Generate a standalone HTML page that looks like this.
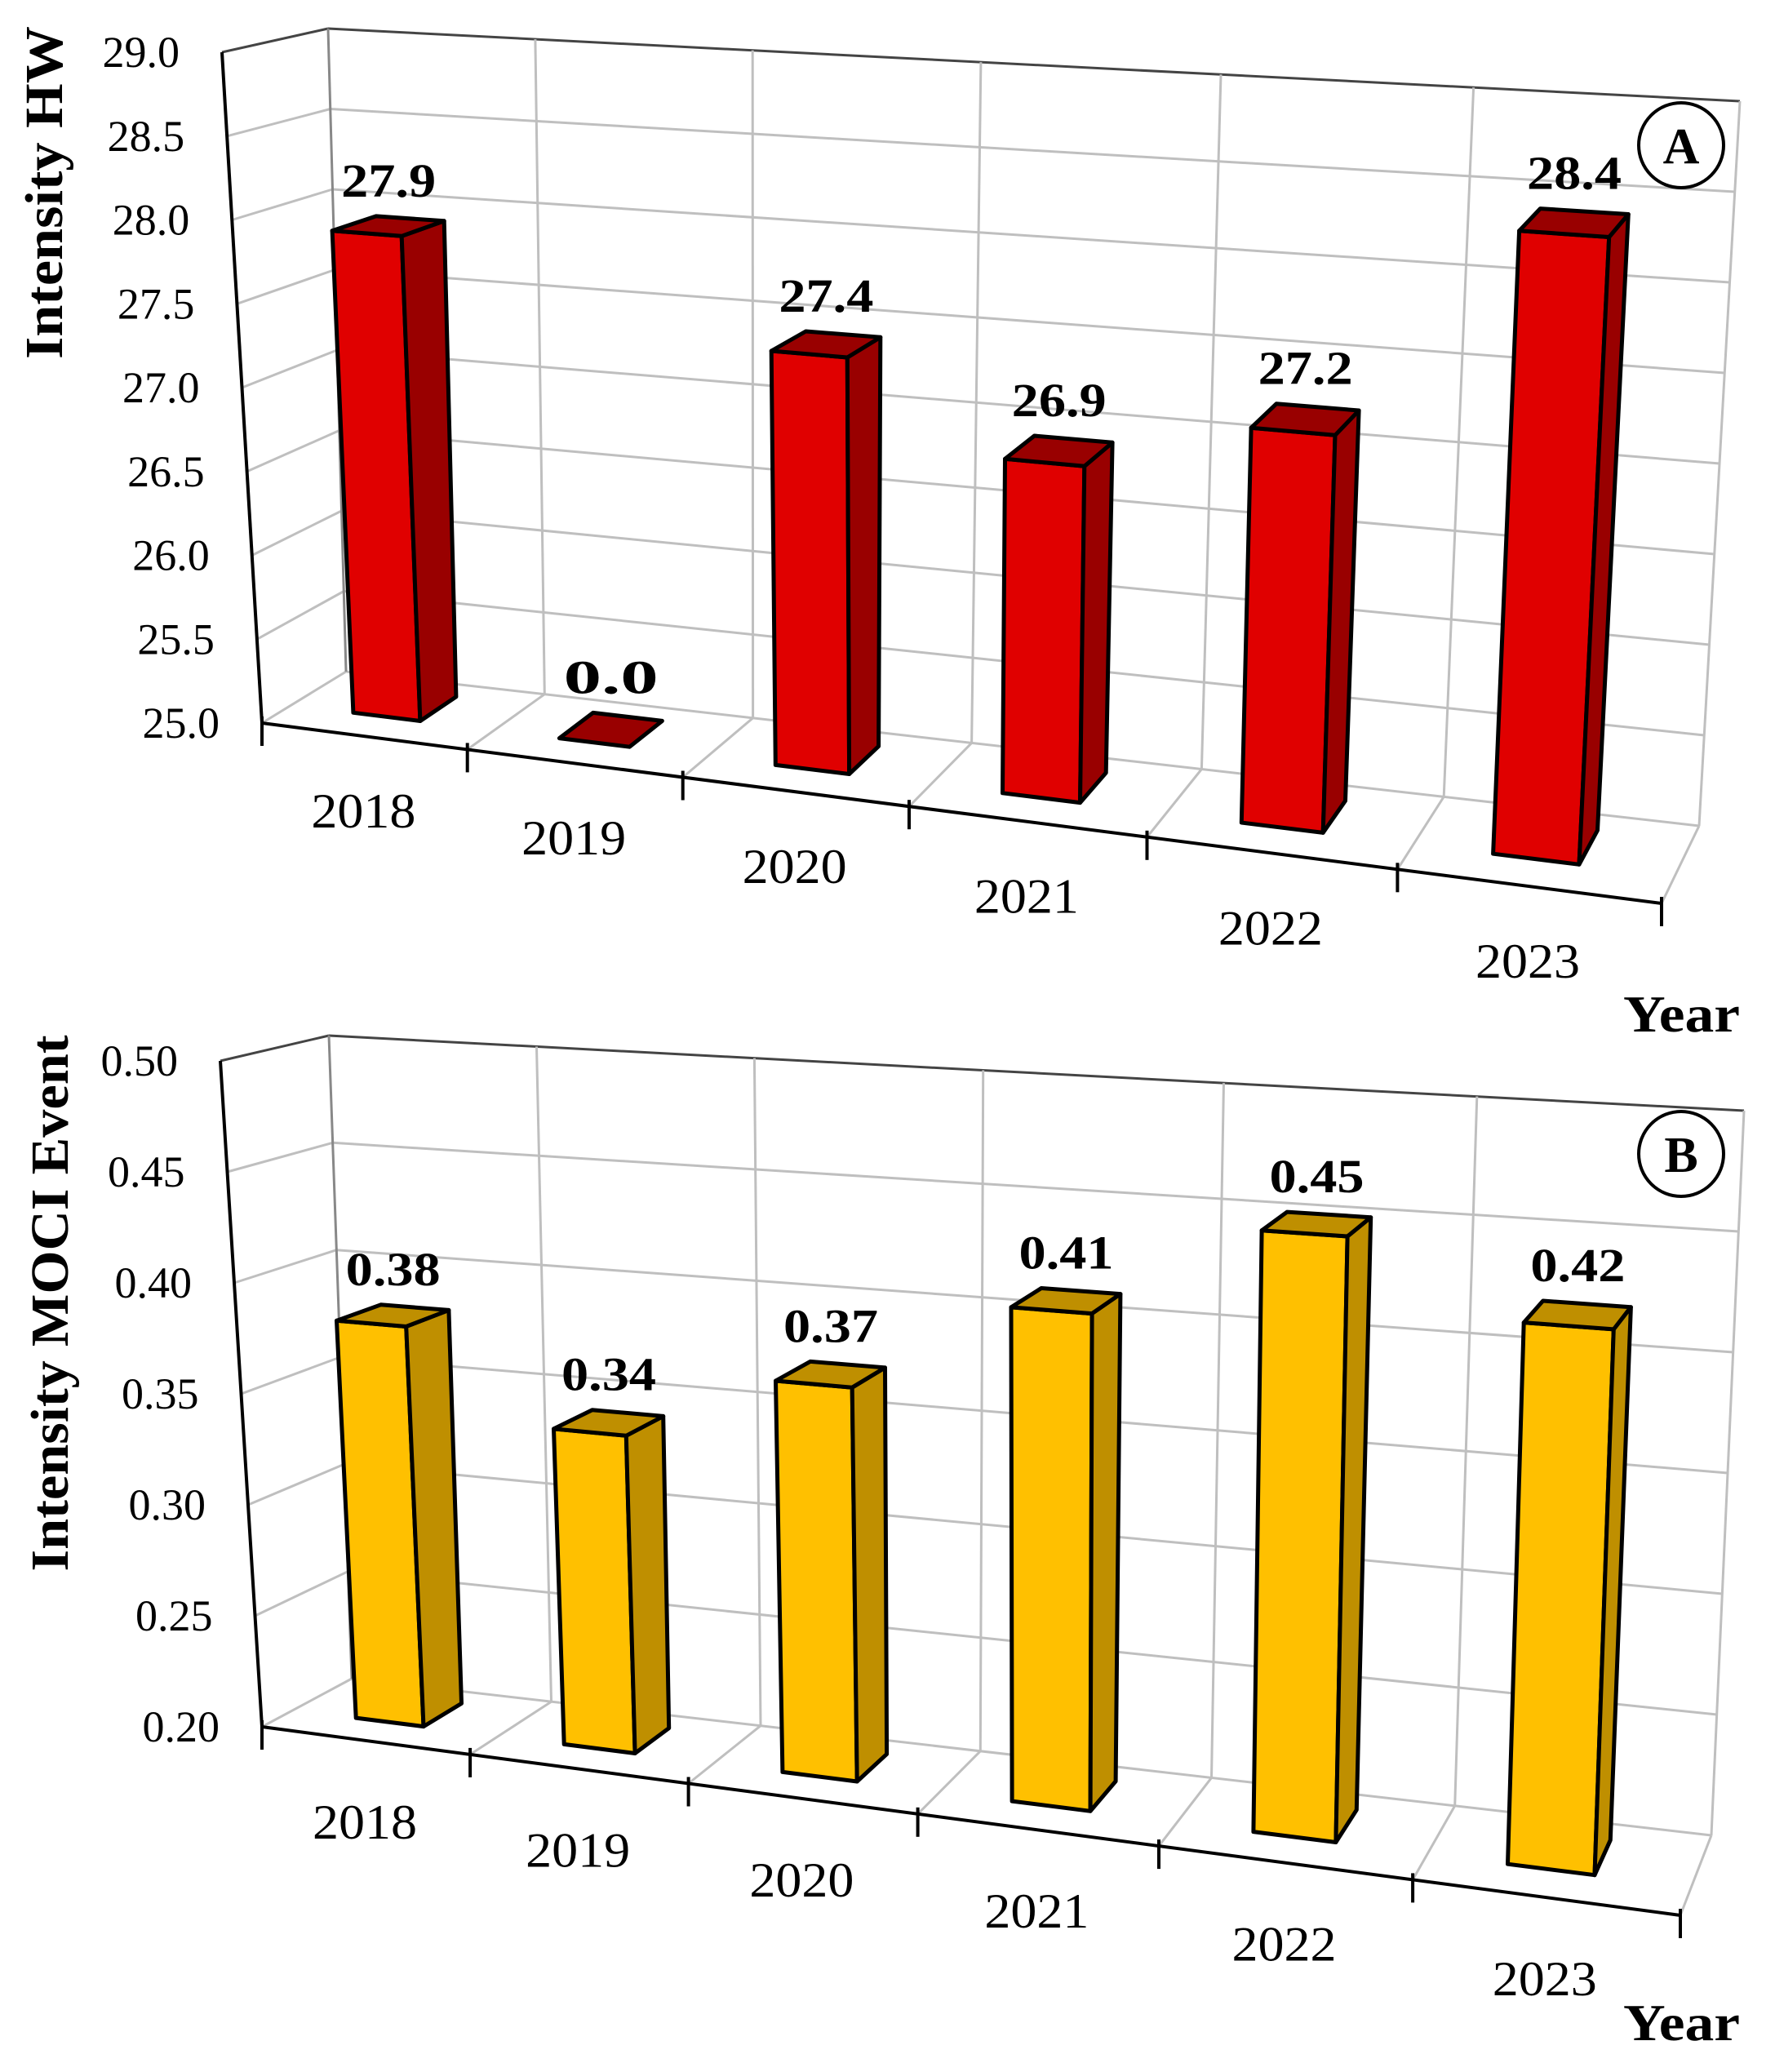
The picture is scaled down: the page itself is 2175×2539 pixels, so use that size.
<!DOCTYPE html>
<html><head><meta charset="utf-8">
<style>
html,body{margin:0;padding:0;background:#fff;}
svg{display:block;}
text{font-family:"Liberation Serif",serif;}
</style></head>
<body>
<svg id="svg" width="2175" height="2539" viewBox="0 0 2175 2539" xmlns="http://www.w3.org/2000/svg"></svg>
<script>
const categories = ["2018","2019","2020","2021","2022","2023"];
const hwValues = [27.9, 0.0, 27.4, 26.9, 27.2, 28.4];
const hwLabels = ["27.9","0.0","27.4","26.9","27.2","28.4"];
const hwTicks = [25.0, 25.5, 26.0, 26.5, 27.0, 27.5, 28.0, 28.5, 29.0];
const hwTickLabels = ["25.0","25.5","26.0","26.5","27.0","27.5","28.0","28.5","29.0"];
const mociValues = [0.38, 0.34, 0.37, 0.41, 0.45, 0.42];
const mociLabels = ["0.38","0.34","0.37","0.41","0.45","0.42"];
const mociTicks = [0.20, 0.25, 0.30, 0.35, 0.40, 0.45, 0.50];
const mociTickLabels = ["0.20","0.25","0.30","0.35","0.40","0.45","0.50"];

const NS = "http://www.w3.org/2000/svg";
const svg = document.getElementById('svg');
function mk(tag, attrs, parent){ const e=document.createElementNS(NS,tag); for(const k in attrs) e.setAttribute(k,attrs[k]); (parent||svg).appendChild(e); return e; }
const R = 0.86;
function warp(u){ return u*R/(1+(R-1)*u); }
function lerp(a,b,t){ return [a[0]+(b[0]-a[0])*t, a[1]+(b[1]-a[1])*t]; }

function drawChart(cfg){
  const g = mk('g', {});
  
  
  const C = cfg.corners;
  const min = cfg.ticks[0], max = cfg.ticks[cfg.ticks.length-1];
  const yf = v => Math.max(0, Math.min(1, (v-min)/(max-min)));
  function P(X,Y,Z){
    const fx = warp(X);
    const bf = lerp(C.FLB,C.FRB,fx), tf = lerp(C.FLT,C.FRT,fx);
    const bb = lerp(C.BLB,C.BRB,fx), tb = lerp(C.BLT,C.BRT,fx);
    const f = lerp(bf,tf,Y), b = lerp(bb,tb,Y);
    return lerp(f,b,Z);
  }
  function line(a,b,stroke,w,name){
    const l = mk('line',{x1:a[0].toFixed(1),y1:a[1].toFixed(1),x2:b[0].toFixed(1),y2:b[1].toFixed(1),stroke:stroke,'stroke-width':w},g);
    
    
    return l;
  }
  const grid = '#bfbfbf', n = categories.length;
  // gridlines
  cfg.ticks.forEach((t,k)=>{
    const Y = yf(t);
    const top = k===cfg.ticks.length-1;
    line(P(0,Y,0),P(0,Y,1), top?'#444':grid, 3, 'side-wall-gridline');
    line(P(0,Y,1),P(1,Y,1), top?'#444':grid, 3, 'back-wall-gridline');
  });
  for(let i=0;i<=n;i++){
    const X=i/n;
    line(P(X,0,1),P(X,1,1), i===0?'#888':grid, 3, 'back-wall-vertical-gridline');
    if(i>0) line(P(X,0,0),P(X,0,1), grid, 3, 'floor-gridline');
  }
  // axes
  line(P(0,0,0),P(0,1,0),'#000',4,'y-axis');
  line(P(0,0,0),P(1,0,0),'#000',4,'x-axis');
  for(let i=0;i<=n;i++){
    const p=P(i/n,0,0);
    line([p[0],p[1]-8],[p[0],p[1]+28],'#000',4,'x-axis-tick');
  }
  // y tick labels
  cfg.ticks.forEach((t,k)=>{
    const p=P(0,yf(t),0);
    const tx = mk('text',{x:(p[0]-52).toFixed(1),y:(p[1]).toFixed(1),'text-anchor':'end','dominant-baseline':'central','font-size':54,fill:'#000'},g);
    tx.textContent = cfg.tickLabels[k];
    
    
  });
  // x labels
  categories.forEach((c,i)=>{
    const p=P((i+0.5)/n,0,0);
    const tx = mk('text',{x:p[0].toFixed(1),y:(p[1]+cfg.xLabelOff).toFixed(1),'text-anchor':'middle','dominant-baseline':'central','font-size':60,textLength:128,lengthAdjust:'spacingAndGlyphs',fill:'#000'},g);
    tx.textContent = c;
    
    
  });
  // bars
  const Z0=0.35, Z1=0.8;
  const pts = a => a.map(p=>p[0].toFixed(1)+','+p[1].toFixed(1)).join(' ');
  cfg.values.forEach((v,i)=>{
    const X0=(i+0.31)/n, X1=(i+0.64)/n, Y=yf(v);
    const bg = mk('g',{stroke:'#000','stroke-width':5,'stroke-linejoin':'round'},g);
    
    
    const topF=[P(X0,Y,Z0),P(X1,Y,Z0),P(X1,Y,Z1),P(X0,Y,Z1)];
    if(Y>0){
      const front=mk('polygon',{points:pts([P(X0,0,Z0),P(X1,0,Z0),P(X1,Y,Z0),P(X0,Y,Z0)]),fill:cfg.front},bg);
      
      
      const side=mk('polygon',{points:pts([P(X1,0,Z0),P(X1,0,Z1),P(X1,Y,Z1),P(X1,Y,Z0)]),fill:cfg.side},bg);
      
      
    }
    const top=mk('polygon',{points:pts(topF),fill:cfg.side},bg);
    
    
    const cx = topF.reduce((s,p)=>s+p[0],0)/4;
    const my = Math.min(...topF.map(p=>p[1]));
    const lb = mk('text',{x:cx.toFixed(1),y:(my-24).toFixed(1),'text-anchor':'middle','font-size':58,'font-weight':'bold',textLength:cfg.labels[i].length>3?116:116,lengthAdjust:'spacingAndGlyphs',fill:'#000'},g);
    lb.textContent = cfg.labels[i];
    
    
  });
  // axis title
  const tt = mk('text',{x:0,y:0,transform:`translate(${cfg.titleX},${cfg.titleY}) rotate(-90)`,'text-anchor':'middle','font-size':66,'font-weight':'bold',textLength:cfg.titleLen,lengthAdjust:'spacingAndGlyphs',fill:'#000'},g);
  tt.textContent = cfg.title;
  
  
  const yr = mk('text',{x:2132,y:cfg.yearY,'text-anchor':'end','font-size':64,'font-weight':'bold',textLength:143,lengthAdjust:'spacingAndGlyphs',fill:'#000'},g);
  yr.textContent = 'Year';
  
  
  const circ = mk('circle',{cx:2060,cy:cfg.circleY,r:52,fill:'#fff',stroke:'#000','stroke-width':4},g);
  
  
  const pl = mk('text',{x:2060,y:cfg.circleY+22,'text-anchor':'middle','font-size':62,'font-weight':'bold',fill:'#000'},g);
  pl.textContent = cfg.panel;
  
  
}

drawChart({
  name:'chart-intensity-hw', panel:'A',
  corners:{FLB:[321,886],FLT:[272,64],BLB:[424,823],BLT:[402,35],FRB:[2036,1107],FRT:[2085,183],BRB:[2082,1012],BRT:[2132,124]},
  ticks:hwTicks, tickLabels:hwTickLabels, values:hwValues, labels:hwLabels,
  front:'#e00000', side:'#990000', xLabelOff:92,
  title:'Intensity HW', titleX:76, titleY:236, titleLen:408, yearY:1264, circleY:178
});
drawChart({
  name:'chart-intensity-moci', panel:'B',
  corners:{FLB:[321,2116],FLT:[270,1300],BLB:[431,2057],BLT:[403,1269],FRB:[2059,2347],FRT:[2095,1410],BRB:[2097,2249],BRT:[2137,1361]},
  ticks:mociTicks, tickLabels:mociTickLabels, values:mociValues, labels:mociLabels,
  front:'#ffc000', side:'#bf8f00', xLabelOff:100,
  title:'Intensity MOCI Event', titleX:83, titleY:1597, titleLen:657, yearY:2500, circleY:1414
});
</script>
</body></html>
